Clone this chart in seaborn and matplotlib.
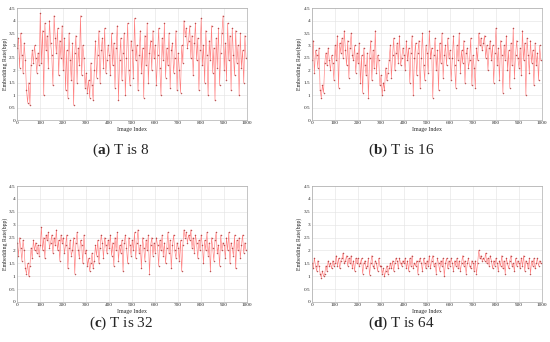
import seaborn as sns
import matplotlib.pyplot as plt
import pandas as pd
import numpy as np

# embedding rate per image (one value read every 5 images)
rate_t8 = [2.9, 3.3, 2.1, 3.5, 2.6, 1.9, 3.1, 2.4, 1.2, 0.7, 1.5, 0.6, 2.2, 2.8, 2.3, 3.0, 2.5, 1.9, 2.7, 2.2,
           4.3, 2.3, 3.6, 1.0, 3.9, 2.8, 3.4, 2.1, 4.0, 3.1, 2.6, 1.4, 4.2, 3.3, 2.7, 3.7, 1.8, 3.2, 2.5, 3.8,
           2.0, 3.3, 1.2, 2.8, 0.9, 3.5, 2.4, 1.6, 3.1, 0.6, 2.7, 3.4, 1.5, 2.9, 2.2, 4.2, 1.8, 3.0, 2.5, 1.3,
           1.9, 1.1, 1.6, 0.9, 2.3, 1.4, 0.8, 2.0, 3.2, 1.7, 2.6, 3.6, 1.5, 2.8, 3.3, 2.1, 3.7, 1.9, 2.4, 3.0,
           2.6, 1.8, 3.5, 2.2, 3.1, 1.3, 2.9, 3.8, 0.8, 2.4, 3.3, 1.6, 2.7, 3.5, 1.0, 2.5, 3.9, 2.0, 1.4, 3.2,
           2.8, 1.7, 4.1, 2.4, 3.0, 1.2, 2.6, 3.6, 1.9, 2.9, 0.9, 3.4, 2.2, 3.9, 1.5, 2.7, 3.2, 2.0, 3.6, 2.5,
           3.0, 1.4, 2.6, 3.7, 2.1, 1.0, 3.3, 2.4, 3.9, 1.7, 2.9, 2.2, 3.5, 1.3, 2.8, 3.1, 1.9, 2.5, 3.6, 1.2,
           2.7, 2.0, 1.1, 3.0, 2.3, 4.0, 3.4, 3.7, 2.9, 3.2, 3.8, 2.5, 3.4, 1.8, 3.1, 3.9, 2.4, 3.3, 1.2, 2.8,
           4.1, 2.2, 3.0, 1.5, 3.6, 2.6, 1.0, 3.2, 2.4, 3.8, 1.9, 2.9, 0.8, 3.3, 2.1, 3.7, 1.4, 2.7, 3.5, 4.2,
           2.0, 3.1, 1.6, 3.9, 2.4, 3.4, 1.2, 3.7, 2.6, 1.8, 3.6, 2.3, 3.0, 1.0, 3.5, 2.1, 2.8, 1.5, 3.4, 2.5]

rate_t16 = [2.4, 3.2, 1.9, 2.8, 2.6, 2.1, 2.9, 1.2, 0.9, 1.4, 1.1, 2.3, 2.7, 2.2, 2.9, 2.4, 2.0, 2.6, 2.3, 1.6,
            3.0, 2.4, 3.4, 1.3, 3.1, 2.7, 3.3, 2.5, 3.6, 2.8, 2.2, 3.2, 1.7, 2.9, 3.5, 2.6, 2.4, 3.0, 1.9, 2.7,
            2.3, 3.1, 1.5, 2.6, 1.1, 2.9, 2.2, 1.8, 2.7, 0.9, 2.5, 3.2, 1.6, 2.8, 2.1, 3.6, 1.9, 2.6, 2.4, 1.4,
            1.8, 1.0, 1.5, 1.2, 2.1, 1.6, 1.9, 2.4, 3.0, 1.7, 2.6, 3.3, 2.0, 2.7, 3.1, 2.3, 3.4, 2.2, 2.5, 2.9,
            2.6, 2.0, 3.2, 2.4, 2.9, 1.5, 2.7, 3.4, 1.0, 2.5, 3.1, 1.8, 2.7, 3.2, 1.3, 2.5, 3.5, 2.2, 1.6, 3.0,
            2.7, 1.9, 3.6, 2.5, 2.9, 0.9, 2.6, 3.3, 2.0, 2.8, 1.2, 3.1, 2.3, 3.5, 1.7, 2.6, 3.0, 2.2, 3.3, 2.5,
            2.8, 1.6, 2.5, 3.4, 2.2, 1.3, 3.0, 2.4, 3.5, 1.9, 2.8, 2.3, 3.2, 1.5, 2.7, 2.9, 2.1, 2.4, 3.3, 1.4,
            2.6, 2.1, 1.3, 2.9, 2.4, 3.5, 3.0, 3.3, 2.8, 3.1, 3.4, 2.5, 3.0, 2.0, 2.9, 3.2, 2.4, 3.0, 1.5, 2.7,
            3.7, 2.2, 2.9, 1.6, 3.2, 2.6, 1.1, 3.0, 2.4, 3.4, 2.0, 2.8, 1.3, 3.1, 2.2, 3.7, 1.7, 2.6, 3.2, 2.5,
            2.1, 2.9, 1.8, 3.6, 2.4, 3.1, 1.0, 3.3, 2.6, 1.9, 3.2, 2.3, 2.8, 1.4, 3.1, 2.2, 2.7, 1.6, 3.0, 2.4]

rate_t32 = [2.3, 1.8, 2.5, 2.1, 1.6, 2.4, 2.0, 1.3, 1.1, 1.5, 1.0, 1.4, 2.1, 1.7, 2.4, 2.0, 2.3, 1.9, 2.2, 1.8,
            2.2, 2.9, 2.0, 2.5, 1.7, 2.6, 2.4, 2.7, 2.1, 2.3, 2.6, 1.9, 2.5, 2.2, 2.8, 2.0, 2.4, 1.6, 2.6, 2.3,
            2.5, 1.9, 2.2, 2.6, 1.3, 2.1, 2.4, 1.8, 2.0, 2.5, 1.1, 2.3, 2.7, 2.0, 1.7, 2.4, 2.2, 1.5, 2.6, 1.9,
            2.0, 1.4, 1.7, 1.2, 1.5, 1.9, 1.3, 1.6, 2.2, 1.8, 2.4, 1.5, 2.1, 2.6, 2.3, 1.7, 2.5, 2.2, 1.9, 2.4,
            2.1, 2.6, 1.8, 2.3, 1.4, 2.5, 2.0, 2.7, 1.6, 2.2, 1.9, 2.4, 1.2, 2.3, 2.6, 2.1, 1.5, 2.5, 2.2, 1.8,
            2.4, 2.0, 2.7, 1.7, 2.3, 2.8, 1.9, 2.2, 1.3, 2.5, 2.1, 1.6, 2.4, 2.0, 2.6, 1.1, 2.2, 2.5, 1.8, 2.3,
            1.9, 2.5, 2.2, 1.4, 2.4, 2.0, 2.6, 1.8, 2.3, 1.5, 2.1, 2.7, 1.9, 2.4, 1.3, 2.2, 2.6, 2.0, 1.7, 2.3,
            2.1, 1.6, 2.4, 1.2, 2.2, 2.8, 2.5, 2.7, 2.3, 2.6, 2.4, 2.8, 2.1, 2.5, 1.9, 2.6, 2.3, 1.7, 2.4, 2.0,
            2.6, 2.2, 1.5, 2.4, 2.0, 2.7, 1.8, 2.3, 1.2, 2.5, 2.1, 1.6, 2.4, 2.7, 1.9, 2.2, 1.4, 2.6, 2.0, 2.3,
            2.2, 1.7, 2.5, 2.0, 2.7, 1.5, 2.3, 2.1, 1.8, 2.6, 1.3, 2.4, 2.0, 2.5, 1.7, 2.2, 2.6, 1.9, 2.3, 2.0]

rate_t64 = [1.5, 1.3, 1.7, 1.4, 1.2, 1.6, 1.4, 1.1, 0.95, 1.2, 1.0, 1.1, 1.4, 1.2, 1.6, 1.4, 1.5, 1.3, 1.6, 1.4,
            1.5, 1.8, 1.4, 1.7, 1.3, 1.6, 1.7, 1.9, 1.5, 1.6, 1.8, 1.4, 1.7, 1.5, 1.8, 1.3, 1.6, 1.2, 1.7, 1.5,
            1.7, 1.4, 1.5, 1.7, 1.1, 1.5, 1.6, 1.3, 1.4, 1.7, 1.05, 1.5, 1.8, 1.4, 1.3, 1.6, 1.5, 1.2, 1.7, 1.4,
            1.4, 1.1, 1.3, 1.0, 1.2, 1.4, 1.1, 1.3, 1.5, 1.3, 1.6, 1.2, 1.5, 1.7, 1.6, 1.3, 1.7, 1.5, 1.4, 1.6,
            1.5, 1.7, 1.3, 1.6, 1.2, 1.7, 1.4, 1.8, 1.3, 1.5, 1.4, 1.6, 1.1, 1.6, 1.7, 1.5, 1.2, 1.7, 1.5, 1.3,
            1.6, 1.4, 1.8, 1.3, 1.6, 1.8, 1.4, 1.5, 1.1, 1.7, 1.5, 1.2, 1.6, 1.4, 1.7, 1.0, 1.5, 1.7, 1.3, 1.6,
            1.4, 1.7, 1.5, 1.2, 1.6, 1.4, 1.7, 1.3, 1.6, 1.2, 1.5, 1.8, 1.4, 1.6, 1.1, 1.5, 1.7, 1.4, 1.3, 1.6,
            1.5, 1.2, 1.6, 1.1, 1.5, 2.0, 1.7, 1.8, 1.6, 1.7, 1.6, 1.9, 1.5, 1.7, 1.4, 1.8, 1.6, 1.3, 1.6, 1.4,
            1.7, 1.5, 1.2, 1.6, 1.4, 1.8, 1.3, 1.6, 1.1, 1.7, 1.5, 1.3, 1.6, 1.8, 1.4, 1.5, 1.2, 1.7, 1.4, 1.6,
            1.5, 1.3, 1.7, 1.4, 1.8, 1.2, 1.6, 1.5, 1.3, 1.7, 1.1, 1.6, 1.4, 1.7, 1.3, 1.5, 1.7, 1.4, 1.6, 1.5]

image_index = np.arange(1, 1001, 5)
letters = ["a", "b", "c", "d"]
t_values = [8, 16, 32, 64]
series = [rate_t8, rate_t16, rate_t32, rate_t64]
x_ticks = list(range(0, 1001, 100))
y_ticks = [0, 0.5, 1, 1.5, 2, 2.5, 3, 3.5, 4, 4.5]

sns.set_theme(style="whitegrid")
plt.rcParams['font.family'] = ['Liberation Serif', 'DejaVu Serif']
plt.rcParams['mathtext.fontset'] = 'custom'
plt.rcParams['mathtext.rm'] = 'Liberation Serif'
plt.rcParams['mathtext.bf'] = 'Liberation Serif:bold'

fig = plt.figure(figsize=(5.5, 3.42), dpi=100)
boxes = [[0.031, 0.649, 0.418, 0.327], [0.567, 0.649, 0.418, 0.327],
         [0.031, 0.117, 0.418, 0.339], [0.567, 0.117, 0.418, 0.339]]
captions_xy = [(0.22, 0.535), (0.73, 0.535), (0.22, 0.03), (0.73, 0.03)]

for i in range(4):
    ax = fig.add_axes(boxes[i])
    df = pd.DataFrame({"Image Index": image_index, "Embedding Rate(bpp)": series[i]})
    sns.lineplot(data=df, x="Image Index", y="Embedding Rate(bpp)", ax=ax, color="#ff6a6a",
                 linestyle="-", linewidth=0.45, alpha=0.85, marker=".", markersize=2.2,
                 markeredgewidth=0, markerfacecolor="#b03a3a")
    ax.set_xlim(0, 1000)
    ax.set_ylim(0, 4.5)
    ax.set_xticks(x_ticks)
    ax.set_yticks(y_ticks)
    ax.set_yticklabels([f"{v:g}" for v in y_ticks])
    ax.tick_params(labelsize=3.8, pad=1, length=0)
    ax.set_xlabel("Image Index", fontsize=4.2, labelpad=1)
    ax.set_ylabel("Embedding Rate(bpp)", fontsize=4.2, labelpad=1)
    ax.grid(color="#e2e2e2", linewidth=0.4)
    for s in ax.spines.values():
        s.set_color("#999999")
        s.set_linewidth(0.4)
    cx, cy = captions_xy[i]
    fig.text(cx, cy, rf"($\mathbf{{{letters[i]}}}$) T is {t_values[i]}",
             ha="center", va="bottom", fontsize=11)

fig.savefig("out.png", dpi=100)
